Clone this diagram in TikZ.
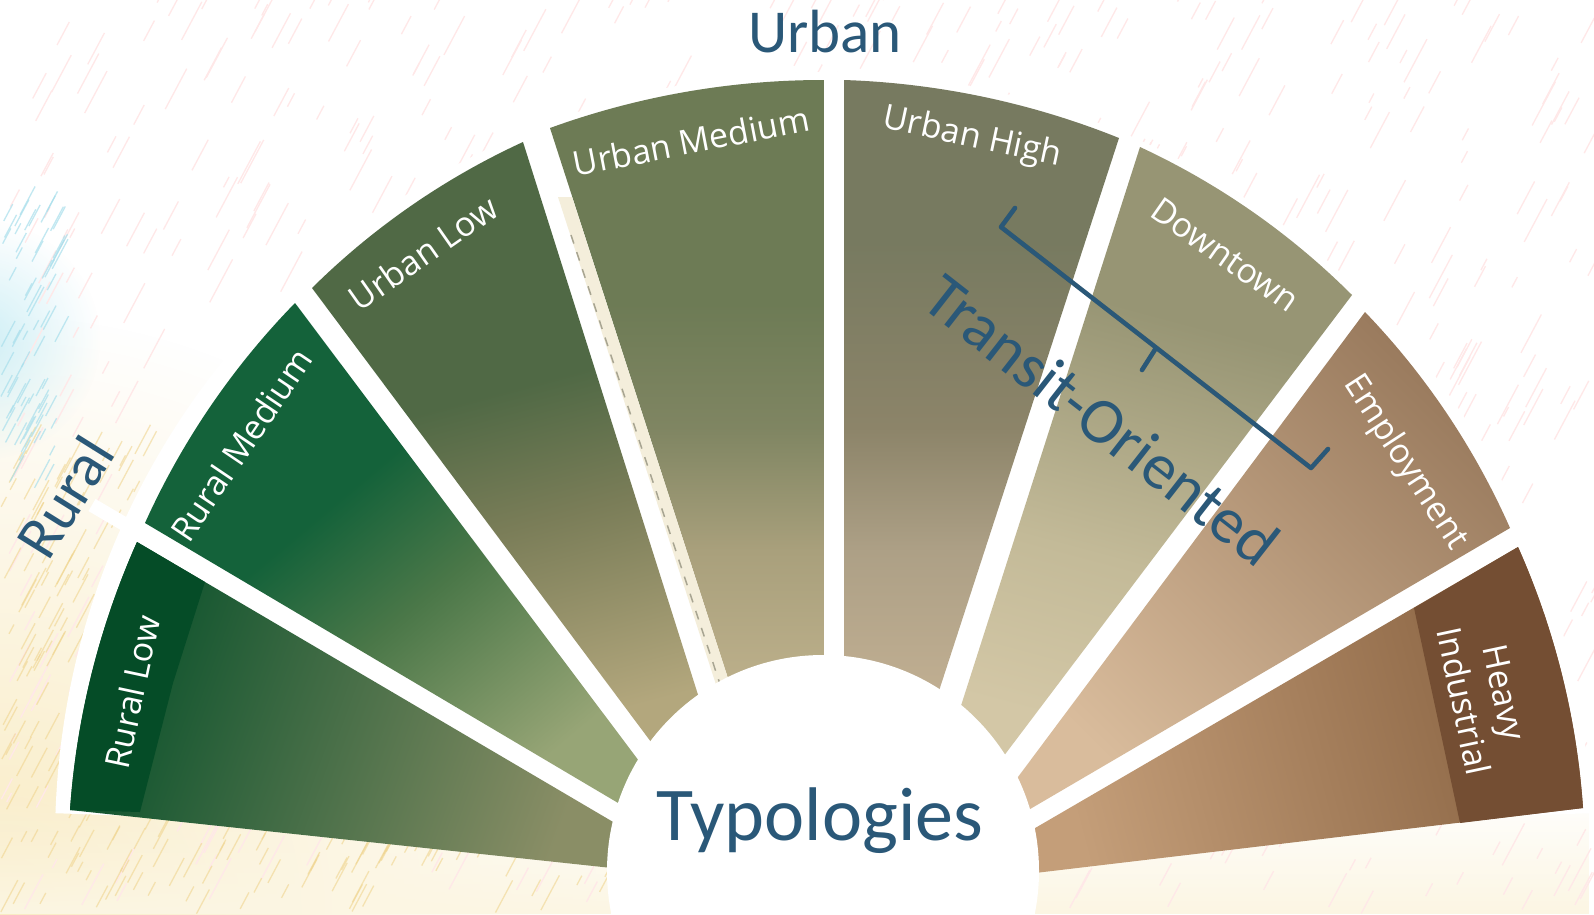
\documentclass[tikz,border=0pt]{standalone}
\usepackage{fontspec}
\setmainfont{Carlito}
\newfontfamily\zonefont{Open Sans}
\usetikzlibrary{calc,fadings}

\definecolor{titleblue}{HTML}{2A5878}
\definecolor{rlDark}{HTML}{07502A}
\definecolor{rlLight}{HTML}{8A8E66}
\definecolor{rlBand}{HTML}{054C27}
\definecolor{rmDark}{HTML}{14623A}
\definecolor{rmMid}{HTML}{4A7748}
\definecolor{rmLight}{HTML}{97A576}
\definecolor{ulDark}{HTML}{506945}
\definecolor{ulMid}{HTML}{7A7D58}
\definecolor{ulLight}{HTML}{B3A77D}
\definecolor{umDark}{HTML}{6D7B55}
\definecolor{umMid}{HTML}{7F8562}
\definecolor{umMid2}{HTML}{A9A07C}
\definecolor{umLight}{HTML}{BEB18C}
\definecolor{uhDark}{HTML}{777A60}
\definecolor{uhMid}{HTML}{8C8469}
\definecolor{uhMid2}{HTML}{ADA086}
\definecolor{uhLight}{HTML}{C1AF92}
\definecolor{dtDark}{HTML}{979574}
\definecolor{dtMid}{HTML}{C3BA98}
\definecolor{dtLight}{HTML}{D3C7A6}
\definecolor{emDark}{HTML}{9A7B5E}
\definecolor{emLight}{HTML}{D9BC9C}
\definecolor{hiDark}{HTML}{86603F}
\definecolor{hiLight}{HTML}{C49E79}
\definecolor{hiBand}{HTML}{744E33}
\definecolor{railcream}{HTML}{F4EEDB}
\definecolor{raildash}{HTML}{A8A592}
\definecolor{sandbase}{HTML}{F9EBC2}
\definecolor{sandline}{HTML}{F0D590}
\definecolor{skybase}{HTML}{CFEFF6}
\definecolor{skyline}{HTML}{A9DFEC}

\pgfdeclareverticalshading{rmShade}{100bp}{color(0bp)=(rmLight); color(25bp)=(rmLight); color(45bp)=(rmMid); color(58bp)=(rmDark); color(100bp)=(rmDark)}
\pgfdeclareverticalshading{ulShade}{100bp}{color(0bp)=(ulLight); color(25bp)=(ulLight); color(43bp)=(ulMid); color(55bp)=(ulDark); color(100bp)=(ulDark)}
\pgfdeclareverticalshading{umShade}{100bp}{color(0bp)=(umLight); color(25bp)=(umLight); color(37bp)=(umMid2); color(47bp)=(umMid); color(57bp)=(umDark); color(100bp)=(umDark)}
\pgfdeclareverticalshading{uhShade}{100bp}{color(0bp)=(uhLight); color(25bp)=(uhLight); color(37bp)=(uhMid2); color(47bp)=(uhMid); color(62bp)=(uhDark); color(100bp)=(uhDark)}
\pgfdeclareverticalshading{dtShade}{100bp}{color(0bp)=(dtLight); color(25bp)=(dtLight); color(40bp)=(dtMid); color(62bp)=(dtDark); color(100bp)=(dtDark)}

\tikzfading[name=softspot, inner color=transparent!0, outer color=transparent!100]
\tikzfading[name=upfade, top color=transparent!100, bottom color=transparent!0]

\begin{document}
\begin{tikzpicture}[x=1pt, y=-1pt,
    every node/.append style = {inner sep=0pt, outer sep=0pt},
    rim/.style = {bend left=#1, looseness=0.86},
    rim/.default = 10,
    zone/.style = {text=white, font=\zonefont\fontsize{34}{42}\selectfont, align=center},
    group/.style = {text=titleblue, font=\fontsize{61}{70}\selectfont},
    transit/.style = {font=\fontsize{65}{70}\selectfont, rotate=-38},
    bracket/.style = {draw=titleblue, line width=4.5pt, line cap=round, line join=round},
    hatch/.style = {line width=1.3pt, draw=#1}]
    \useasboundingbox (0,0) rectangle (1594,914);
    \fill[white] (0,0) rectangle (1594,914);
    \fill[sandbase, path fading=softspot] (0,914) circle (600);
    \fill[skybase, path fading=softspot] (-20,340) circle (120);
    \fill[sandbase!45, path fading=upfade] (0,790) rectangle (1594,914);

    \pgfmathsetseed{11}
    \foreach \k in {1,...,900}{
        \pgfmathsetmacro{\px}{rnd*1594}
        \pgfmathsetmacro{\py}{rnd*914}
        \pgfmathsetmacro{\ln}{10+rnd*40}
        \draw[hatch=red!9] (\px,\py) -- ++(-62:\ln);
    }
    \foreach \k in {1,...,700}{
        \pgfmathsetmacro{\px}{rnd*640}
        \pgfmathsetmacro{\py}{440+rnd*474}
        \pgfmathsetmacro{\ln}{10+rnd*30}
        \draw[hatch=sandline, opacity=.6] (\px,\py) -- ++(-62:\ln);
    }
    \foreach \k in {1,...,70}{
        \pgfmathsetmacro{\px}{rnd*55}
        \pgfmathsetmacro{\py}{210+rnd*280}
        \pgfmathsetmacro{\ln}{10+rnd*25}
        \draw[hatch=skyline, opacity=.7] (\px,\py) -- ++(-62:\ln);
    }

    \coordinate (O) at (823,840);
    \fill[white] (O) -- ++(-178:768) arc[start angle=-178, end angle=-2, radius=768] -- cycle;
    \draw[white, line width=14pt] (92,505) -- (160,545);

    % Rural Low
    \shade[top color=rlDark, middle color=rlDark!55!rlLight, bottom color=rlLight, shading angle=70]
        (70,810) to[rim] (137,542) -- (620,826) -- (612,868) -- cycle;
    \fill[rlBand] (70,810) to[rim] (137,542) -- (205,582) -- (173,683) -- (140,812) -- cycle;
    % Rural Medium
    \shade[shading=rmShade, shading angle=40]
        (145,523) to[rim] (295,303) -- (645,769) -- (630,810) -- cycle;
    % Urban Low
    \shade[shading=ulShade, shading angle=15]
        (312,288) to[rim] (523,142) -- (706,720) -- (660,754) -- cycle;
    % Urban Medium
    \shade[shading=umShade]
        (550,128) to[rim] (824,80) -- (824,700) -- (735,700) -- cycle;
    \fill[railcream] (558,197) -- (572,197) -- (735,700) -- (721,700) -- cycle;
    \draw[raildash, line width=1.5pt, dash pattern=on 9pt off 9pt] (571,235) -- (722,690);
    % Urban High
    \shade[shading=uhShade]
        (844,80) to[rim] (1119,138) -- (936,700) -- (844,700) -- cycle;
    % Downtown
    \shade[shading=dtShade, shading angle=-15]
        (1140,147) to[rim] (1352,295) -- (1000,761) -- (958,715) -- cycle;
    % Employment
    \shade[top color=emDark, middle color=emDark!75!emLight, bottom color=emLight, shading angle=-45]
        (1365,312) to[rim] (1510,528) -- (1025,812) -- (1012,785) -- cycle;
    % Heavy Industrial
    \shade[top color=hiDark, bottom color=hiLight, shading angle=-75]
        (1518,547) to[rim] (1583,808) -- (1035,873) -- (1030,831) -- cycle;
    \fill[hiBand] (1414,608) -- (1518,547) to[rim] (1583,808) -- (1460,823) -- cycle;

    \fill[white] (823,871) circle (216);
    \node[font=\fontsize{76}{80}\selectfont, text=titleblue, anchor=base] (typo) at (820,840) {Typologies};

    \node[group, anchor=base] (urban) at (825,52) {Urban};
    \node[group, rotate=58] (rural) at (65,497) {Rural};

    \node[zone, rotate=78] (rurallow) at (132,692) {Rural Low};
    \node[zone, rotate=56] (ruralmed) at (241,445) {Rural Medium};
    \node[zone, rotate=35] (urbanlow) at (423,253) {Urban Low};
    \node[zone, rotate=11] (urbanmed) at (691,141) {Urban Medium};
    \node[zone, rotate=-12] (urbanhigh) at (972,138) {Urban High};
    \node[zone, rotate=-35] (downtown) at (1225,255) {Downtown};
    \node[zone, rotate=-57] (employ) at (1405,463) {Employment};
    \node[zone, rotate=-78] (heavy) at (1484,697) {Heavy\\Industrial};

    \coordinate (brTopTick) at (1015,208);
    \coordinate (brTop) at (1001,227);
    \coordinate (brMid) at (1156,348);
    \coordinate (brMidTick) at (1142,370);
    \coordinate (brBot) at (1311,468);
    \coordinate (brBotTick) at (1328,449);
    \begin{scope}[shift={(2,3)}]
        \draw[bracket, draw=black, opacity=.15] (brTopTick) -- (brTop) -- (brBot) -- (brBotTick);
        \draw[bracket, draw=black, opacity=.15] (brMid) -- (brMidTick);
    \end{scope}
    \draw[bracket] (brTopTick) -- (brTop) -- (brBot) -- (brBotTick);
    \draw[bracket] (brMid) -- (brMidTick);

    \node[transit, text=titleblue] (transit) at (1102,420) {Transit-Oriented};
\end{tikzpicture}
\end{document}
